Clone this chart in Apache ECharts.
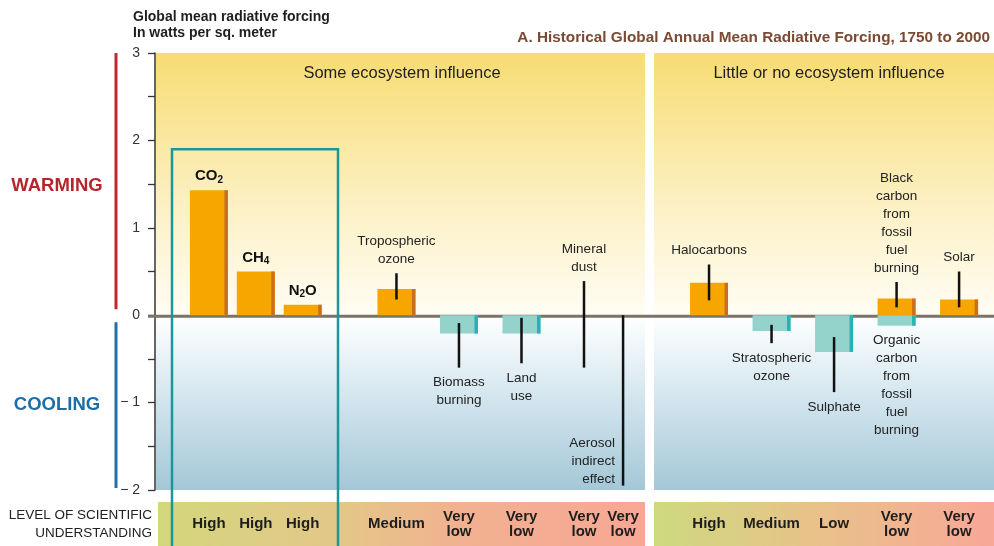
<!DOCTYPE html>
<html><head><meta charset="utf-8">
<script src="https://cdn.jsdelivr.net/npm/echarts@6/dist/echarts.min.js"></script>
<style>html,body{margin:0;padding:0;background:#fff}#c{width:994px;height:546px}</style>
</head><body><div id="c"></div>
<script>
// x-axis slots (half-width spacers keep the original grouping of the forcings)
const xSlots = [
  'CO₂', '', '', '', '', '',
  'CH₄', '', '', '', '', '',
  'N₂O', '', '', '', '', '', '', '', '', '', '', '',
  'Tropospheric ozone', '', '', '', '', '', '', '',
  'Biomass burning', '', '', '', '', '', '', '',
  'Land use', '', '', '', '', '', '', '',
  'Mineral dust', '', '', '', '',
  'Aerosol indirect effect', '', '', '', '', '', '', '', '', '', '',
  'Halocarbons', '', '', '', '', '', '', '',
  'Stratospheric ozone', '', '', '', '', '', '', '',
  'Sulphate', '', '', '', '', '', '', '',
  'Fossil fuel carbon', '', '', '', '', '', '', '',
  'Solar'
];

const categories = ['CO₂','CH₄','N₂O','Tropospheric ozone','Biomass burning','Land use','Mineral dust','Aerosol indirect effect','Halocarbons','Stratospheric ozone','Sulphate','Fossil fuel carbon','Solar'];
const warming   = [1.43, 0.50, 0.12, 0.30, null, null, null, null, 0.37, null, null, 0.19, 0.18];
const cooling   = [null, null, null, null, -0.21, -0.21, null, null, null, -0.18, -0.42, -0.12, null];
const rangeLow  = [null, null, null, 0.18, -0.60, -0.55, -0.60, -1.95, 0.17, -0.32, -0.88, 0.09, 0.09];
const rangeHigh = [null, null, null, 0.48, -0.09, -0.03, 0.39, 0.00, 0.58, -0.11, -0.25, 0.38, 0.50];
const warmLabel = ['{m|CO}{s|2}','{m|CH}{s|4}','{m|N}{s|2}{m|O}','Tropospheric\nozone','','','Mineral\ndust','','Halocarbons','','','Black\ncarbon\nfrom\nfossil\nfuel\nburning','Solar'];
const coolLabel = ['','','','','Biomass\nburning','Land\nuse','','Aerosol\nindirect\neffect','','Stratospheric\nozone','Sulphate','Organic\ncarbon\nfrom\nfossil\nfuel\nburning',''];
const understanding = ['High','High','High','Medium','Very\nlow','Very\nlow','Very\nlow','Very\nlow','High','Medium','Low','Very\nlow','Very\nlow'];
const yTicks = [-2, -1, 0, 1, 2, 3];

const FONT = '"Liberation Sans", Arial, Helvetica, sans-serif';
const chart = echarts.init(document.getElementById('c'));

const barData = [];
categories.forEach((c, i) => {
  if (warming[i] != null) barData.push([c, warming[i], 1]);
  if (cooling[i] != null) barData.push([c, cooling[i], -1]);
});
const rangeData = [];
categories.forEach((c, i) => { if (rangeLow[i] != null) rangeData.push([c, rangeLow[i], rangeHigh[i]]); });
const labelItems = [];
categories.forEach((c, i) => {
  if (warmLabel[i]) {
    const a = Math.max(0, warming[i] ?? 0, rangeHigh[i] ?? 0);
    labelItems.push({ value: [c, a], text: warmLabel[i], side: 'top' });
  }
  if (coolLabel[i]) {
    const a = Math.min(0, cooling[i] ?? 0, rangeLow[i] ?? 0);
    labelItems.push({ value: [c, a], text: coolLabel[i], side: a < -1.5 ? 'left' : 'bottom' });
  }
});
const understandingBySlot = {};
categories.forEach((c, i) => { understandingBySlot[c] = understanding[i]; });

chart.setOption({
  animation: false,
  backgroundColor: '#ffffff',
  grid: { left: 205, right: 31, top: 53, bottom: 56 },
  xAxis: {
    type: 'category', data: xSlots, boundaryGap: true,
    axisLine: { show: false, onZero: false }, axisTick: { show: false }, splitLine: { show: false },
    axisLabel: {
      interval: 0, margin: 34, verticalAlign: 'middle',
      color: '#1e1e1e', fontFamily: FONT, fontWeight: 'bold', fontSize: 15, lineHeight: 15,
      formatter: v => understandingBySlot[v] || ''
    }
  },
  yAxis: {
    type: 'value', min: yTicks[0], max: yTicks[yTicks.length - 1], interval: 1, offset: 50,
    axisLine: { show: true, lineStyle: { color: '#333', width: 1.5 } },
    axisTick: { show: true, length: 7, lineStyle: { color: '#333', width: 1.3 } },
    minorTick: { show: true, splitNumber: 2, length: 7, lineStyle: { color: '#333', width: 1.3 } },
    splitLine: { show: false },
    axisLabel: { margin: 15, color: '#333', fontFamily: FONT, fontSize: 14,
      formatter: v => v < 0 ? '\u2212 ' + Math.abs(v) : String(v) }
  },
  series: [
    {
      type: 'custom', name: 'forcing', z: 3,
      encode: { x: 0, y: 1 },
      data: barData,
      renderItem: (params, api) => {
        const x = api.value(0), v = api.value(1), kind = api.value(2);
        const p0 = api.coord([x, 0]), p1 = api.coord([x, v]);
        const w = 38, e = 3.5;
        const top = Math.min(p0[1], p1[1]), h = Math.abs(p1[1] - p0[1]);
        const fill = kind > 0 ? '#f7a600' : '#93d3cc';
        const edge = kind > 0 ? '#c8701e' : '#25b2b6';
        return { type: 'group', children: [
          { type: 'rect', shape: { x: p0[0] - w / 2, y: top, width: w, height: h }, style: { fill } },
          { type: 'rect', shape: { x: p0[0] + w / 2 - e, y: top, width: e, height: h }, style: { fill: edge } }
        ] };
      }
    },
    {
      type: 'custom', name: 'range', z: 5,
      encode: { x: 0, y: [1, 2] },
      data: rangeData,
      renderItem: (params, api) => {
        const x = api.value(0);
        const a = api.coord([x, api.value(1)]), b = api.coord([x, api.value(2)]);
        return { type: 'line', shape: { x1: a[0], y1: a[1], x2: b[0], y2: b[1] },
          style: { stroke: '#111', lineWidth: 2.5 } };
      }
    },
    {
      type: 'custom', name: 'labels', z: 6,
      encode: { x: 0, y: 1 },
      data: labelItems.map(d => d.value),
      renderItem: (params, api) => {
        const it = labelItems[params.dataIndex];
        const p = api.coord([api.value(0), api.value(1)]);
        let x = p[0], y = p[1], align = 'center', va = 'bottom';
        if (it.side === 'top') y -= 5;
        else if (it.side === 'bottom') { y += 6; va = 'top'; }
        else { x -= 8; y += 3; align = 'right'; }
        return { type: 'text', x, y, style: {
          text: it.text, align, verticalAlign: va, fill: '#222',
          font: '13.5px ' + FONT, lineHeight: 18,
          rich: {
            m: { fontFamily: FONT, fontSize: 15, fontWeight: 'bold', fill: '#111', lineHeight: 18 },
            s: { fontFamily: FONT, fontSize: 10, fontWeight: 'bold', fill: '#111', lineHeight: 9, verticalAlign: 'bottom' }
          }
        } };
      }
    }
  ]
});

// decorations positioned from the axis scale
const yTop = chart.convertToPixel({ yAxisIndex: 0 }, 3);
const y0 = chart.convertToPixel({ yAxisIndex: 0 }, 0);
const yBot = chart.convertToPixel({ yAxisIndex: 0 }, -2);
const yBox = chart.convertToPixel({ yAxisIndex: 0 }, 1.9);
const warmGrad = { type: 'linear', x: 0, y: 0, x2: 0, y2: 1, colorStops: [
  { offset: 0, color: '#f7dc72' }, { offset: 0.55, color: '#fcefc0' }, { offset: 1, color: '#fffdf4' }] };
const coolGrad = { type: 'linear', x: 0, y: 0, x2: 0, y2: 1, colorStops: [
  { offset: 0, color: '#ffffff' }, { offset: 0.45, color: '#d5e7ef' }, { offset: 1, color: '#a4c7d7' }] };
const bandL = { type: 'linear', x: 0, y: 0, x2: 1, y2: 0, colorStops: [
  { offset: 0, color: '#d3d77d' }, { offset: 0.4, color: '#e5c589' }, { offset: 0.62, color: '#f1b190' }, { offset: 1, color: '#f8a795' }] };
const bandR = { type: 'linear', x: 0, y: 0, x2: 1, y2: 0, colorStops: [
  { offset: 0, color: '#ced97f' }, { offset: 0.45, color: '#e7c389' }, { offset: 1, color: '#f9a797' }] };

const T = (x, y, text, font, fill, align, va) => ({ type: 'text', x, y, z: 20, silent: true,
  style: { text, font, fill, align: align || 'left', verticalAlign: va || 'middle' } });

chart.setOption({
  graphic: { elements: [
    { type: 'rect', z: -10, silent: true, shape: { x: 156, y: yTop, width: 489, height: y0 - yTop }, style: { fill: warmGrad } },
    { type: 'rect', z: -10, silent: true, shape: { x: 156, y: y0, width: 489, height: yBot - y0 }, style: { fill: coolGrad } },
    { type: 'rect', z: -10, silent: true, shape: { x: 654, y: yTop, width: 340, height: y0 - yTop }, style: { fill: warmGrad } },
    { type: 'rect', z: -10, silent: true, shape: { x: 654, y: y0, width: 340, height: yBot - y0 }, style: { fill: coolGrad } },
    { type: 'rect', z: -10, silent: true, shape: { x: 158, y: 502, width: 487, height: 44 }, style: { fill: bandL } },
    { type: 'rect', z: -10, silent: true, shape: { x: 654, y: 502, width: 340, height: 44 }, style: { fill: bandR } },
    { type: 'line', z: 1, silent: true, shape: { x1: 148, y1: y0 + 1, x2: 994, y2: y0 + 1 }, style: { stroke: '#7b7369', lineWidth: 3 } },
    { type: 'polyline', z: 10, silent: true, shape: { points: [[172, 546], [172, yBox], [338, yBox], [338, 546]] },
      style: { stroke: '#1a979b', lineWidth: 2.5, fill: null } },
    { type: 'line', z: 10, silent: true, shape: { x1: 116, y1: yTop, x2: 116, y2: y0 - 6 }, style: { stroke: '#c1272d', lineWidth: 3 } },
    { type: 'line', z: 10, silent: true, shape: { x1: 116, y1: y0 + 7, x2: 116, y2: yBot - 2 }, style: { stroke: '#1f70ad', lineWidth: 3 } },
    T(57, 186, 'WARMING', 'bold 18.5px ' + FONT, '#b8242c', 'center'),
    T(57, 405, 'COOLING', 'bold 18.5px ' + FONT, '#1a6ea8', 'center'),
    T(133, 17, 'Global mean radiative forcing', 'bold 14px ' + FONT, '#1e1e1e'),
    T(133, 33, 'In watts per sq. meter', 'bold 14px ' + FONT, '#1e1e1e'),
    T(990, 38, 'A. Historical Global Annual Mean Radiative Forcing, 1750 to 2000', 'bold 15.3px ' + FONT, '#7b4a33', 'right'),
    T(402, 73, 'Some ecosystem influence', '16.5px ' + FONT, '#1e1e1e', 'center'),
    T(829, 73, 'Little or no ecosystem influence', '16.5px ' + FONT, '#1e1e1e', 'center'),
    T(152, 515, 'LEVEL OF SCIENTIFIC', '13.5px ' + FONT, '#222', 'right'),
    T(152, 533, 'UNDERSTANDING', '13.5px ' + FONT, '#222', 'right')
  ] }
});
</script></body></html>
